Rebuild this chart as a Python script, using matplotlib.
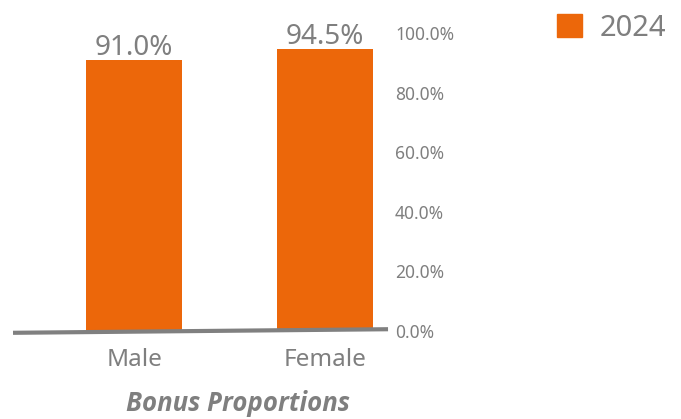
import matplotlib
matplotlib.use("Agg")
import matplotlib.pyplot as plt
from matplotlib.patches import Patch
from matplotlib.ticker import PercentFormatter

categories = ["Male", "Female"]
values_2024 = [91.0, 94.5]
series_name = "2024"
yticks = [0, 20, 40, 60, 80, 100]
xlabel = "Bonus Proportions"

ORANGE = "#EC670A"
GRAY = "#7F7F7F"
plt.rcParams['font.family'] = ['Noto Sans', 'DejaVu Sans']

fig = plt.figure(figsize=(6.81, 4.19), dpi=100)
ax = fig.add_axes([0.0191, 0.21, 0.5507, 0.711])
x = list(range(len(categories)))
bars = ax.bar(x, values_2024, width=0.5, color=ORANGE, zorder=2)
for xi, v in zip(x, values_2024):
    ax.text(xi, v - 0.6, f"{v:.1f}%", ha="center", va="bottom", fontsize=20,
            color=GRAY, zorder=1)

ax.set_xlim(-0.634, 1.33)
ax.set_ylim(0, 100)
ax.set_yticks(yticks)
ax.yaxis.set_major_formatter(PercentFormatter(decimals=1))
ax.yaxis.tick_right()
ax.tick_params(axis="y", length=0, pad=5, labelsize=12.5, labelcolor=GRAY)
ax.set_xticks(x)
ax.set_xticklabels(categories)
ax.tick_params(axis="x", length=0, pad=12, labelsize=17.5, labelcolor=GRAY)
for s in ax.spines.values():
    s.set_visible(False)
# slightly slanted baseline
ax.plot([0, 1], [-0.006, 0.006], transform=ax.transAxes, color="#808080",
        lw=3, solid_capstyle="butt", zorder=3, clip_on=False)
fig.text(0.349, 0.038, xlabel, ha="center", va="center", fontsize=18.5,
         color=GRAY, fontweight="bold", style="italic",
         family=["Open Sans", "DejaVu Sans"])

fig.legend(handles=[Patch(color=ORANGE, label=series_name)], loc="upper right",
           bbox_to_anchor=(1.008, 1.016), frameon=False, fontsize=21,
           labelcolor=GRAY, handlelength=0.85, handleheight=0.85,
           handletextpad=0.6, borderaxespad=0.3)
fig.savefig("out.png", dpi=100)
